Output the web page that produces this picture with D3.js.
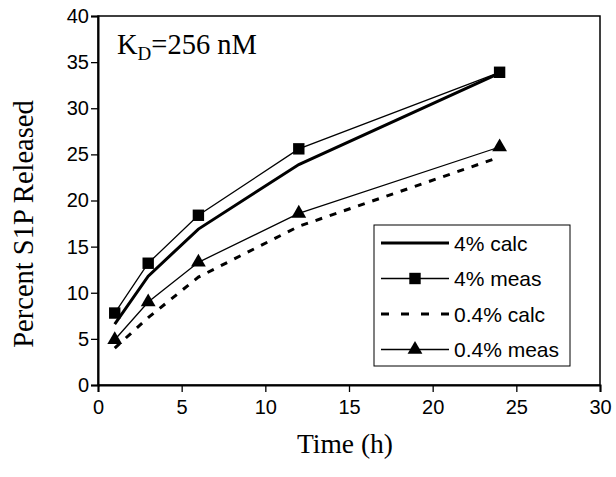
<!DOCTYPE html>
<html>
<head>
<meta charset="utf-8">
<script src="https://cdn.jsdelivr.net/npm/d3@7"></script>
<style>
  body { margin: 0; background: #fff; }
  svg { display: block; }
</style>
</head>
<body>
<div id="canvas"></div>
<script>
// data
var times = [1, 3, 6, 12, 24];
var calc4 = [6.6, 11.8, 16.9, 23.9, 33.8];
var meas4 = [7.8, 13.2, 18.4, 25.6, 33.9];
var calc04 = [4.0, 7.3, 11.7, 17.2, 24.7];
var meas04 = [4.9, 9.0, 13.3, 18.6, 25.8];
var xTicks = [0, 5, 10, 15, 20, 25, 30];
var yTicks = [0, 5, 10, 15, 20, 25, 30, 35, 40];
var legendLabels = ['4% calc', '4% meas', '0.4% calc', '0.4% meas'];

var W = 616, H = 477;
var m = {t: 16, r: 16, b: 92, l: 98};
var w = W - m.l - m.r,
    h = H - m.t - m.b;

var svg = d3.select('#canvas')
    .append('svg')
    .attr('width', W)
    .attr('height', H);

var plot = svg.append('g')
    .attr('transform', 'translate(' + m.l + ',' + m.t + ')');

var scaleX = d3.scaleLinear().domain([0, 30]).range([0, w]);
var scaleY = d3.scaleLinear().domain([0, 40]).range([h, 0]);

// frame
plot.append('rect')
    .attr('width', w).attr('height', h)
    .attr('fill', 'none').attr('stroke', '#000').attr('stroke-width', 1.5);

var axisX = d3.axisBottom(scaleX).tickValues(xTicks).tickSize(7).tickPadding(8);
var axisY = d3.axisLeft(scaleY).tickValues(yTicks).tickSize(7).tickPadding(2);

var gx = plot.append('g').attr('transform', 'translate(0,' + h + ')').call(axisX);
var gy = plot.append('g').call(axisY);
[gx, gy].forEach(function(g){
    g.select('.domain').attr('stroke-width', 2);
    g.selectAll('.tick line').attr('stroke-width', 1.3);
    g.selectAll('text')
        .attr('font-family', 'Liberation Sans, Arial, sans-serif')
        .attr('font-size', 20)
        .attr('fill', '#000');
});

var series = [
    {name: legendLabels[0], vals: calc4, width: 3, dash: null, marker: null},
    {name: legendLabels[1], vals: meas4, width: 1.3, dash: null, marker: 'square'},
    {name: legendLabels[2], vals: calc04, width: 3, dash: '7,8', marker: null},
    {name: legendLabels[3], vals: meas04, width: 1.3, dash: null, marker: 'triangle'}
];

var line = d3.line()
    .x(function(d){ return scaleX(d[0]); })
    .y(function(d){ return scaleY(d[1]); });

var sym = {
    square: d3.symbol().type(d3.symbolSquare).size(130),
    triangle: d3.symbol().type(d3.symbolTriangle).size(95)
};

series.forEach(function(s){
    var pts = times.map(function(t, i){ return [t, s.vals[i]]; });
    plot.append('path')
        .attr('d', line(pts))
        .attr('fill', 'none')
        .attr('stroke', '#000')
        .attr('stroke-width', s.width)
        .attr('stroke-dasharray', s.dash);
    if (s.marker) {
        plot.selectAll(null).data(pts).enter().append('path')
            .attr('d', sym[s.marker]())
            .attr('transform', function(d){ return 'translate(' + scaleX(d[0]) + ',' + scaleY(d[1]) + ')'; })
            .attr('fill', '#000');
    }
});

// K_D annotation
var kd = svg.append('text')
    .attr('x', 117).attr('y', 54)
    .attr('font-family', 'Liberation Serif, Times New Roman, serif')
    .attr('font-size', 28.5);
kd.append('tspan').text('K');
kd.append('tspan').attr('font-size', 19).attr('dy', 6).text('D');
kd.append('tspan').attr('dy', -6).text('=256 nM');

// legend
var lg = svg.append('g').attr('transform', 'translate(374,225)');
lg.append('rect')
    .attr('width', 196).attr('height', 141)
    .attr('fill', '#fff').attr('stroke', '#000').attr('stroke-width', 1);
series.forEach(function(s, i){
    var y = 18 + i * 35.5;
    lg.append('line')
        .attr('x1', 7).attr('x2', 75).attr('y1', y).attr('y2', y)
        .attr('stroke', '#000').attr('stroke-width', s.width)
        .attr('stroke-dasharray', s.dash ? '8,12' : null);
    if (s.marker) {
        lg.append('path')
            .attr('d', sym[s.marker]())
            .attr('transform', 'translate(41,' + y + ')');
    }
    lg.append('text')
        .attr('x', 80).attr('y', y + 7.5)
        .attr('font-family', 'Liberation Sans, Arial, sans-serif')
        .attr('font-size', 21)
        .text(s.name);
});

// axis titles
svg.append('text')
    .attr('x', 345).attr('y', 453)
    .attr('text-anchor', 'middle')
    .attr('font-family', 'Liberation Serif, Times New Roman, serif')
    .attr('font-size', 27.5)
    .text('Time (h)');

svg.append('text')
    .attr('transform', 'translate(33,224) rotate(-90)')
    .attr('text-anchor', 'middle')
    .attr('font-family', 'Liberation Serif, Times New Roman, serif')
    .attr('font-size', 28.5)
    .text('Percent S1P Released');
</script>
</body>
</html>
